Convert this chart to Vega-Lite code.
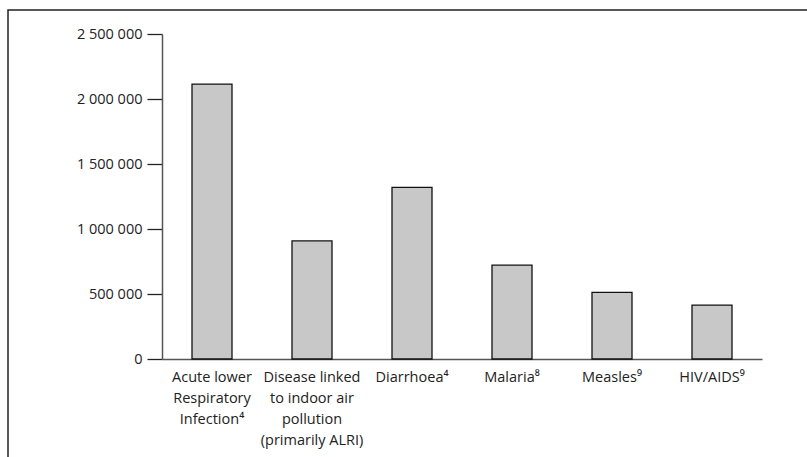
{
  "$schema": "https://vega.github.io/schema/vega-lite/v6.json",
  "autosize": "none",
  "width": 805,
  "height": 450,
  "padding": {"left": 8, "top": 10, "right": 0, "bottom": 0},
  "background": "white",
  "config": {
    "view": {"stroke": "#222222", "strokeWidth": 1.5},
    "font": "Open Sans"
  },
  "data": {
    "values": [
      {"cause": "Acute lower|Respiratory|Infection⁴", "deaths": 2115000},
      {"cause": "Disease linked|to indoor air|pollution|(primarily ALRI)", "deaths": 908000},
      {"cause": "Diarrhoea⁴", "deaths": 1320000},
      {"cause": "Malaria⁸", "deaths": 722000},
      {"cause": "Measles⁹", "deaths": 513000},
      {"cause": "HIV/AIDS⁹", "deaths": 415000}
    ]
  },
  "mark": {"type": "bar", "fill": "#c8c8c8", "stroke": "#111111", "strokeWidth": 1.3},
  "encoding": {
    "x": {
      "field": "cause",
      "type": "nominal",
      "sort": null,
      "scale": {"range": [154, 754], "paddingInner": 0.6, "paddingOuter": 0.3},
      "axis": {
        "title": null,
        "offset": -101,
        "labelAngle": 0,
        "labelExpr": "split(datum.label, '|')",
        "labelFontSize": 14.5,
        "labelColor": "#222222",
        "labelLineHeight": 21,
        "labelPadding": 11,
        "ticks": false,
        "domainColor": "#555555",
        "domainWidth": 1.5
      }
    },
    "y": {
      "field": "deaths",
      "type": "quantitative",
      "scale": {"domain": [0, 2500000], "range": [349, 24], "nice": false},
      "axis": {
        "title": null,
        "offset": -154,
        "values": [0, 500000, 1000000, 1500000, 2000000, 2500000],
        "labelExpr": "replace(format(datum.value, ',d'), /,/g, ' ')",
        "labelFontSize": 14.5,
        "labelColor": "#222222",
        "tickSize": 15,
        "tickColor": "#222222",
        "tickWidth": 1.3,
        "labelPadding": 5,
        "grid": false,
        "domainColor": "#555555",
        "domainWidth": 1.5
      }
    }
  }
}
